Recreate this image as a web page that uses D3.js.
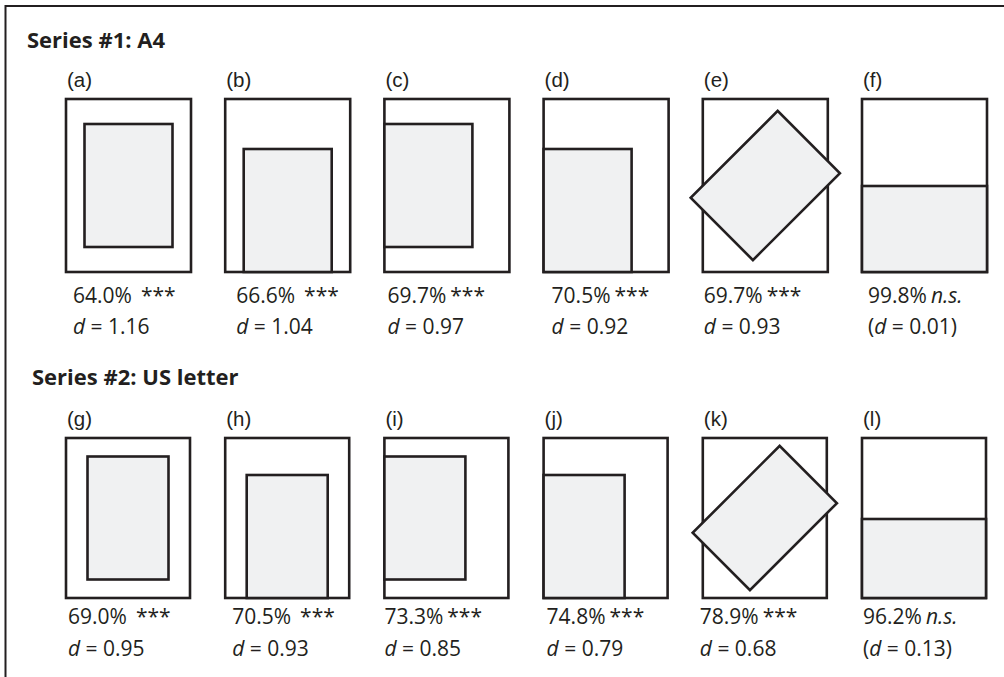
<!DOCTYPE html>
<html>
<head>
<meta charset="utf-8">
<script src="https://cdn.jsdelivr.net/npm/d3@7"></script>
<style>
  body { margin: 0; background: #fff; }
  svg { display: block; }
</style>
</head>
<body>
<svg id="chart" width="1004" height="677"></svg>
<script>
// data
const seriesTitles = ["Series #1: A4", "Series #2: US letter"];
const letters1 = ["a", "b", "c", "d", "e", "f"];
const letters2 = ["g", "h", "i", "j", "k", "l"];
const placements = ["center", "bottom", "left", "bottomleft", "rotated", "half"];
const pct1 = [64.0, 66.6, 69.7, 70.5, 69.7, 99.8];
const pct2 = [69.0, 70.5, 73.3, 74.8, 78.9, 96.2];
const effect1 = [1.16, 1.04, 0.97, 0.92, 0.93, 0.01];
const effect2 = [0.95, 0.93, 0.85, 0.79, 0.68, 0.13];
const sig1 = ["***", "***", "***", "***", "***", "n.s."];
const sig2 = ["***", "***", "***", "***", "***", "n.s."];

// layout
const ink = "#231f20";
const paperFill = "#fff";
const innerFill = "#f0f1f2";
const bodyFont = "'Open Sans', sans-serif";
const labelFont = "'Liberation Sans', Arial, sans-serif";
const bodySize = 21;

const svg = d3.select("#chart");

// outer frame
svg.append("rect")
  .attr("x", 5.5).attr("y", 6)
  .attr("width", 1010).attr("height", 700)
  .attr("fill", "none")
  .attr("stroke", ink)
  .attr("stroke-width", 2);

const x = d3.scalePoint().domain(d3.range(6)).range([66, 862]);

const series = [
  { title: seriesTitles[0], titleX: 27, titleY: 48, letters: letters1, pct: pct1, eff: effect1, sig: sig1,
    top: 99, outerW: 125, outerH: 173, innerW: 88, innerH: 123, labelY: 87, line1: 303, line2: 334,
    nudge: [7, 11, 3, 8, 1, 6], wide: [true, true, false, false, false, false] },
  { title: seriesTitles[1], titleX: 32, titleY: 385, letters: letters2, pct: pct2, eff: effect2, sig: sig2,
    top: 438, outerW: 124, outerH: 160, innerW: 81, innerH: 123, labelY: 426, line1: 624, line2: 656,
    nudge: [2, 7, 0, 3, -3, 1], wide: [true, true, false, false, false, false] }
];

series.forEach(s => {
  svg.append("text")
    .attr("x", s.titleX).attr("y", s.titleY)
    .attr("font-family", bodyFont)
    .attr("font-weight", 700)
    .attr("font-size", 22)
    .attr("fill", ink)
    .text(s.title);

  const panels = svg.append("g").selectAll("g")
    .data(d3.range(6))
    .join("g")
      .attr("transform", i => `translate(${x(i)},0)`);

  // panel letter
  panels.append("text")
    .attr("x", 1).attr("y", s.labelY)
    .attr("font-family", labelFont)
    .attr("font-size", 20.5)
    .attr("fill", ink)
    .text(i => `(${s.letters[i]})`);

  // outer page
  panels.append("rect")
    .attr("x", 0).attr("y", s.top)
    .attr("width", s.outerW).attr("height", s.outerH)
    .attr("fill", paperFill)
    .attr("stroke", ink)
    .attr("stroke-width", 2.6);

  // inner content block
  panels.each(function(i) {
    const g = d3.select(this);
    const p = placements[i];
    const cx = s.outerW / 2, cy = s.top + s.outerH / 2;
    let w = s.innerW, h = s.innerH, rx, ry, rot = 0;
    if (p === "center") { rx = cx - w / 2; ry = cy - h / 2; }
    else if (p === "bottom") { rx = cx - w / 2; ry = s.top + s.outerH - h; }
    else if (p === "left") { rx = 0; ry = cy - h / 2; }
    else if (p === "bottomleft") { rx = 0; ry = s.top + s.outerH - h; }
    else if (p === "rotated") { rx = cx - w / 2; ry = cy - h / 2; rot = 45; }
    else { w = s.outerW; h = s.innerW - 2; rx = 0; ry = s.top + s.outerH - h; }
    g.append("rect")
      .attr("x", rx).attr("y", ry)
      .attr("width", w).attr("height", h)
      .attr("fill", innerFill)
      .attr("stroke", ink)
      .attr("stroke-width", 2.6)
      .attr("stroke-linejoin", "miter")
      .attr("transform", rot ? `rotate(${rot},${cx},${cy})` : null);
  });

  // percentage + significance
  const t1 = panels.append("text")
    .attr("x", i => s.nudge[i]).attr("y", s.line1)
    .attr("font-family", bodyFont)
    .attr("font-size", bodySize)
    .attr("fill", ink);
  t1.append("tspan").text(i => s.pct[i].toFixed(1) + "%");
  t1.append("tspan")
    .attr("dx", i => s.wide[i] ? 9 : 4)
    .attr("font-style", i => s.sig[i] === "n.s." ? "italic" : null)
    .text(i => s.sig[i]);

  // effect size
  const t2 = panels.append("text")
    .attr("x", i => s.nudge[i]).attr("y", s.line2)
    .attr("font-family", bodyFont)
    .attr("font-size", bodySize)
    .attr("fill", ink);
  t2.append("tspan").text(i => s.sig[i] === "n.s." ? "(" : "");
  t2.append("tspan").attr("font-style", "italic").text("d");
  t2.append("tspan").text(i => " = " + s.eff[i].toFixed(2) + (s.sig[i] === "n.s." ? ")" : ""));
});
</script>
</body>
</html>
